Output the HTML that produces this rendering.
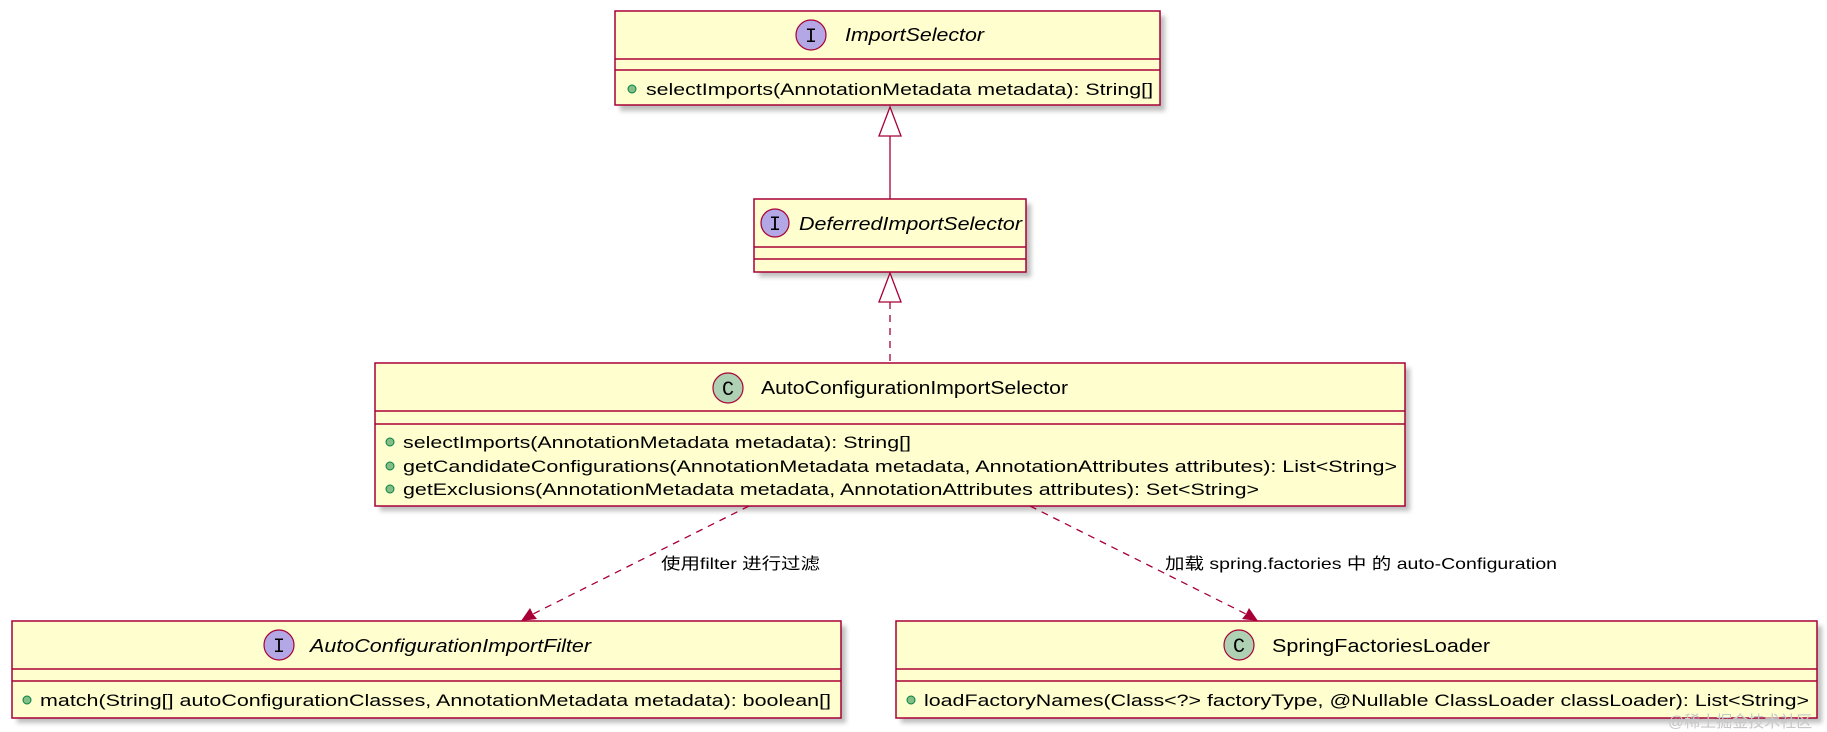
<!DOCTYPE html>
<html><head><meta charset="utf-8"><style>
html,body{margin:0;padding:0;background:#fff;width:1827px;height:732px;overflow:hidden}
svg{display:block}
text{font-family:"Liberation Sans","Noto Sans CJK SC",sans-serif;font-size:17px;fill:#000}
.t{font-size:18px}
.i{font-style:italic}
</style></head><body>
<svg width="1827" height="732" viewBox="0 0 1827 732">
<defs>
<filter id="sh" x="-5%" y="-10%" width="115%" height="130%"><feGaussianBlur stdDeviation="2.5"/></filter>
</defs>
<g fill="#888" opacity="0.55" filter="url(#sh)">
<rect x="620" y="16" width="545" height="95"/>
<rect x="759" y="204" width="272" height="73"/>
<rect x="380" y="368" width="1030" height="143"/>
<rect x="17" y="626" width="829" height="97"/>
<rect x="901" y="626" width="921" height="97"/>
</g>
<g fill="#FEFECE" stroke="#A80036" stroke-width="1.5">
<rect x="615" y="11" width="545" height="94"/>
<rect x="754" y="199" width="272" height="73"/>
<rect x="375" y="363" width="1030" height="143"/>
<rect x="12" y="621" width="829" height="97"/>
<rect x="896" y="621" width="921" height="97"/>
</g>
<g stroke="#A80036" stroke-width="1.5">
<line x1="615" y1="59" x2="1160" y2="59"/><line x1="615" y1="70" x2="1160" y2="70"/>
<line x1="754" y1="247" x2="1026" y2="247"/><line x1="754" y1="259" x2="1026" y2="259"/>
<line x1="375" y1="411" x2="1405" y2="411"/><line x1="375" y1="424" x2="1405" y2="424"/>
<line x1="12" y1="669" x2="841" y2="669"/><line x1="12" y1="681" x2="841" y2="681"/>
<line x1="896" y1="669" x2="1817" y2="669"/><line x1="896" y1="681" x2="1817" y2="681"/>
</g>
<!-- icons -->
<g stroke="#A80036" stroke-width="1.2">
<circle cx="811" cy="35" r="15" fill="#B4A7E5"/>
<circle cx="775" cy="223" r="14" fill="#B4A7E5"/>
<circle cx="728" cy="388" r="15" fill="#ADD1B2"/>
<circle cx="279" cy="645" r="15" fill="#B4A7E5"/>
<circle cx="1239" cy="645" r="15" fill="#ADD1B2"/>
</g>
<g font-family="Liberation Mono" text-anchor="middle" style="font-size:20px;font-family:'Liberation Mono',monospace">
<text x="811" y="42" style="font-size:20px;font-family:'Liberation Mono',monospace">I</text>
<text x="775" y="230" style="font-size:20px;font-family:'Liberation Mono',monospace">I</text>
<text x="728" y="395" style="font-size:20px;font-family:'Liberation Mono',monospace">C</text>
<text x="279" y="652" style="font-size:20px;font-family:'Liberation Mono',monospace">I</text>
<text x="1239" y="652" style="font-size:20px;font-family:'Liberation Mono',monospace">C</text>
</g>
<!-- titles -->
<text class="t i" x="845" y="41" textLength="139" lengthAdjust="spacingAndGlyphs">ImportSelector</text>
<text class="t i" x="799" y="230" textLength="223" lengthAdjust="spacingAndGlyphs">DeferredImportSelector</text>
<text class="t" x="761" y="394" textLength="307" lengthAdjust="spacingAndGlyphs">AutoConfigurationImportSelector</text>
<text class="t i" x="310" y="652" textLength="281" lengthAdjust="spacingAndGlyphs">AutoConfigurationImportFilter</text>
<text class="t" x="1272" y="652" textLength="218" lengthAdjust="spacingAndGlyphs">SpringFactoriesLoader</text>
<!-- method dots -->
<g fill="#84BE84" stroke="#038048" stroke-width="1">
<circle cx="632" cy="89" r="4"/>
<circle cx="390" cy="442" r="4"/>
<circle cx="390" cy="466" r="4"/>
<circle cx="390" cy="489" r="4"/>
<circle cx="27" cy="700" r="4"/>
<circle cx="911" cy="700" r="4"/>
</g>
<text x="646" y="95" textLength="507" lengthAdjust="spacingAndGlyphs">selectImports(AnnotationMetadata metadata): String[]</text>
<text x="403" y="448" textLength="508" lengthAdjust="spacingAndGlyphs">selectImports(AnnotationMetadata metadata): String[]</text>
<text x="403" y="472" textLength="994" lengthAdjust="spacingAndGlyphs">getCandidateConfigurations(AnnotationMetadata metadata, AnnotationAttributes attributes): List&lt;String&gt;</text>
<text x="403" y="495" textLength="856" lengthAdjust="spacingAndGlyphs">getExclusions(AnnotationMetadata metadata, AnnotationAttributes attributes): Set&lt;String&gt;</text>
<text x="40" y="706" textLength="791" lengthAdjust="spacingAndGlyphs">match(String[] autoConfigurationClasses, AnnotationMetadata metadata): boolean[]</text>
<text x="924" y="706" textLength="885" lengthAdjust="spacingAndGlyphs">loadFactoryNames(Class&lt;?&gt; factoryType, @Nullable ClassLoader classLoader): List&lt;String&gt;</text>
<!-- connectors -->
<g stroke="#A80036" stroke-width="1.3" fill="none">
<line x1="890" y1="136" x2="890" y2="199"/>
<polygon points="890,107 879,136 901,136" fill="#fff"/>
<line x1="890" y1="302" x2="890" y2="363" stroke-dasharray="7,6"/>
<polygon points="890,273 879,302 901,302" fill="#fff"/>
<line x1="749" y1="506" x2="525" y2="618" stroke-dasharray="7,6"/>
<line x1="1030" y1="506" x2="1254" y2="618" stroke-dasharray="7,6"/>
</g>
<g fill="#A80036">
<polygon points="521,621 530,608 533,614 537,619"/>
<polygon points="1258,621 1242,619 1246,614 1249,608"/>
</g>
<text x="661" y="569" style="font-size:16px" textLength="159" lengthAdjust="spacingAndGlyphs">使用filter 进行过滤</text>
<text x="1165" y="569" style="font-size:16px" textLength="392" lengthAdjust="spacingAndGlyphs">加载 spring.factories 中 的 auto-Configuration</text>
<text x="1668" y="727" style="font-size:16px;fill:#c8c8c8">@稀土掘金技术社区</text>
</svg>
</body></html>
